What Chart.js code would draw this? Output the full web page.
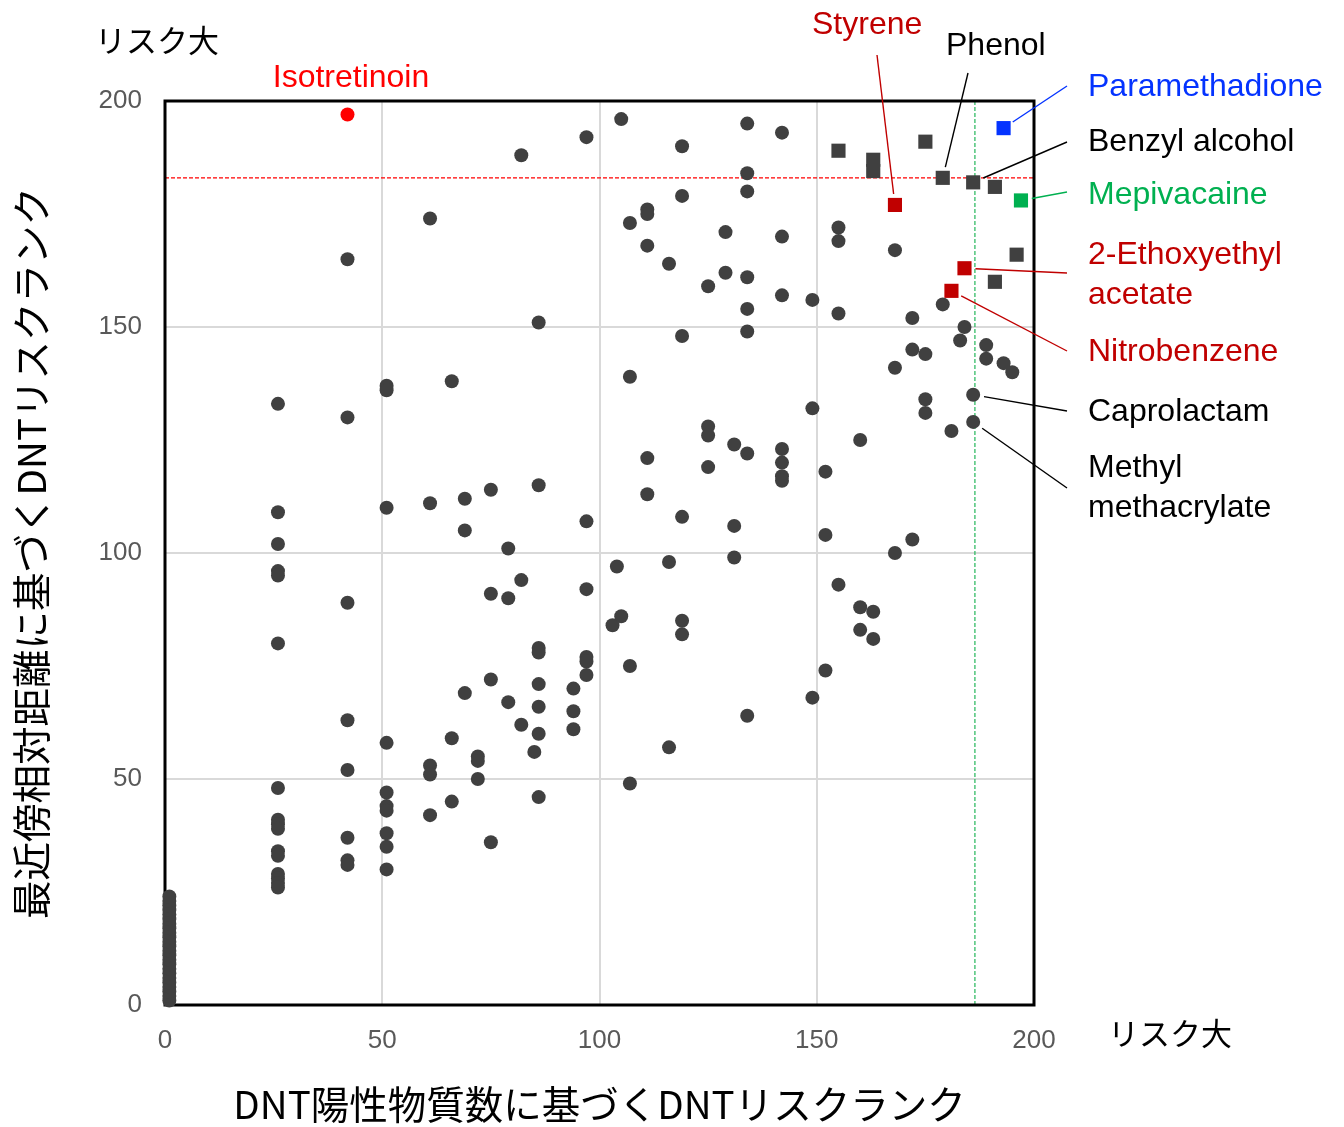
<!DOCTYPE html>
<html lang="ja">
<head>
    <meta charset="UTF-8">
    <title>DNT risk rank</title>
    <script src="https://cdn.jsdelivr.net/npm/chart.js"></script>
    <style>
        body { margin: 0; background: #fff; }
        #wrap { width: 1344px; height: 1127px; position: relative; }
    </style>
</head>
<body>
    <div id="wrap"><canvas id="rankChart"></canvas></div>

    <script>
        // x: rank from number of DNT-positive substances, y: rank from nearest-neighbour relative distance
        const circleRanks = [1, 26, 42, 51, 61, 66, 69, 72, 75, 79, 82, 85, 86, 94, 97, 103, 104, 105, 107, 111,
            116, 119, 125, 129, 131, 134, 142, 149, 152, 155, 160, 163, 168, 172, 175, 179, 181, 183, 184, 189, 193, 195];
        const circleDistances = [
            [1, 2, 3, 4, 5, 6, 7, 8, 9, 10, 11, 12, 13, 14, 15, 16, 17, 18, 19, 20, 21, 22, 23, 24],
            [133, 109, 102, 96, 95, 80, 48, 41, 40, 39, 34, 33, 29, 28, 27, 26],
            [165, 130, 89, 63, 52, 37, 32, 31],
            [137, 136, 110, 58, 47, 44, 43, 38, 35, 30],
            [174, 111, 53, 51, 42],
            [138, 59, 45],
            [112, 105, 69],
            [55, 54, 50],
            [114, 91, 72, 36],
            [101, 90, 67],
            [188, 94, 62],
            [56],
            [151, 115, 79, 78, 71, 66, 60, 46],
            [70, 65, 61],
            [192, 107, 92, 77, 76, 73],
            [84],
            [97],
            [196, 86],
            [173, 139, 75, 49],
            [176, 175, 168, 121, 113],
            [164, 98, 57],
            [190, 179, 148, 108, 85, 82],
            [159, 128, 126, 119],
            [171, 162],
            [124, 106, 99],
            [195, 184, 180, 161, 154, 149, 122, 64],
            [193, 170, 157, 123, 120, 117, 116],
            [156, 132, 68],
            [118, 104, 74],
            [172, 169, 153, 93],
            [125, 88, 83],
            [87, 81],
            [167, 141, 100],
            [152, 145, 103],
            [144, 134, 131],
            [155],
            [127],
            [147],
            [150],
            [146, 143],
            [142],
            [140]
        ];

        // square markers without a name
        const squareRanks = [155, 163, 163, 175, 191, 196, 191];
        const squareDistances = [189, 187, 184.5, 191, 181, 166, 160];

        // named compounds
        const compoundNames = ['Isotretinoin', 'Styrene', 'Phenol', 'Paramethadione', 'Benzyl alcohol',
            'Mepivacaine', '2-Ethoxyethyl acetate', 'Nitrobenzene', 'Caprolactam', 'Methyl methacrylate'];
        const compoundRanks = [42, 168, 179, 193, 186, 197, 184, 181, 186, 186];
        const compoundDistances = [197, 177, 183, 194, 182, 178, 163, 158, 135, 129];

        const distanceCutoff = 183;
        const rankCutoff = 186.4;
        const axisTicks = [0, 50, 100, 150, 200];

        const GRAY = '#404040';
        const DARKRED = '#c00000';
        const latin = '"Liberation Sans", Arial, sans-serif';
        const jp = '"Noto Sans CJK JP", sans-serif';

        const markStyle = {
            'Isotretinoin': { shape: 'circle', color: '#ff0000' },
            'Styrene': { shape: 'rect', color: DARKRED },
            'Phenol': { shape: 'rect', color: GRAY },
            'Paramethadione': { shape: 'rect', color: '#0433ff' },
            'Benzyl alcohol': { shape: 'rect', color: GRAY },
            'Mepivacaine': { shape: 'rect', color: '#00b050' },
            '2-Ethoxyethyl acetate': { shape: 'rect', color: DARKRED },
            'Nitrobenzene': { shape: 'rect', color: DARKRED },
            'Caprolactam': { shape: 'circle', color: GRAY },
            'Methyl methacrylate': { shape: 'circle', color: GRAY }
        };

        // label placement in canvas pixels; leader goes from (lx, ly) to the point
        const callouts = {
            'Isotretinoin': { text: ['Isotretinoin'], tx: 351, ty: 78, align: 'center', color: '#ff0000' },
            'Styrene': { text: ['Styrene'], tx: 812, ty: 25, color: DARKRED, lx: 877, ly: 55 },
            'Phenol': { text: ['Phenol'], tx: 946, ty: 46, color: '#000', lx: 968, ly: 73 },
            'Paramethadione': { text: ['Paramethadione'], tx: 1088, ty: 87, color: '#0433ff', lx: 1067, ly: 86 },
            'Benzyl alcohol': { text: ['Benzyl alcohol'], tx: 1088, ty: 142, color: '#000', lx: 1067, ly: 142 },
            'Mepivacaine': { text: ['Mepivacaine'], tx: 1088, ty: 195, color: '#00b050', lx: 1067, ly: 192 },
            '2-Ethoxyethyl acetate': { text: ['2-Ethoxyethyl', 'acetate'], tx: 1088, ty: 255, color: DARKRED, lx: 1067, ly: 273 },
            'Nitrobenzene': { text: ['Nitrobenzene'], tx: 1088, ty: 352, color: DARKRED, lx: 1067, ly: 351 },
            'Caprolactam': { text: ['Caprolactam'], tx: 1088, ty: 412, color: '#000', lx: 1067, ly: 411 },
            'Methyl methacrylate': { text: ['Methyl', 'methacrylate'], tx: 1088, ty: 468, color: '#000', lx: 1067, ly: 488 }
        };

        const circlePoints = [];
        circleRanks.forEach((r, i) => {
            circleDistances[i].forEach(d => circlePoints.push({ x: r, y: d }));
        });
        const squarePoints = squareRanks.map((r, i) => ({ x: r, y: squareDistances[i] }));
        const compoundPoints = compoundRanks.map((r, i) => ({ x: r, y: compoundDistances[i] }));

        const overlay = {
            id: 'overlay',
            beforeDatasetsDraw(chart) {
                const { ctx, chartArea: a, scales: { x, y } } = chart;
                ctx.save();
                ctx.lineWidth = 1.3;
                ctx.setLineDash([4, 2]);
                ctx.strokeStyle = '#ff0000';
                const yc = y.getPixelForValue(distanceCutoff);
                ctx.beginPath();
                ctx.moveTo(a.left, yc);
                ctx.lineTo(a.right, yc);
                ctx.stroke();
                ctx.strokeStyle = '#33bb66';
                const xc = x.getPixelForValue(rankCutoff);
                ctx.beginPath();
                ctx.moveTo(xc, a.top);
                ctx.lineTo(xc, a.bottom);
                ctx.stroke();
                ctx.setLineDash([]);
                ctx.lineWidth = 3;
                ctx.strokeStyle = '#000';
                ctx.strokeRect(a.left, a.top, a.right - a.left, a.bottom - a.top);
                ctx.restore();
            },
            afterDatasetsDraw(chart) {
                const { ctx, scales: { x, y } } = chart;
                ctx.save();
                ctx.textBaseline = 'middle';
                compoundNames.forEach((name, i) => {
                    const c = callouts[name];
                    if (c.lx !== undefined) {
                        const px = x.getPixelForValue(compoundRanks[i]);
                        const py = y.getPixelForValue(compoundDistances[i]);
                        const dx = px - c.lx, dy = py - c.ly;
                        const len = Math.hypot(dx, dy);
                        const stop = (len - 11) / len;
                        ctx.strokeStyle = c.color;
                        ctx.lineWidth = 1.4;
                        ctx.beginPath();
                        ctx.moveTo(c.lx, c.ly);
                        ctx.lineTo(c.lx + dx * stop, c.ly + dy * stop);
                        ctx.stroke();
                    }
                    ctx.fillStyle = c.color;
                    ctx.font = '32px ' + latin;
                    ctx.textAlign = c.align || 'left';
                    c.text.forEach((t, k) => ctx.fillText(t, c.tx, c.ty + k * 40));
                });
                ctx.fillStyle = '#000';
                ctx.textAlign = 'left';
                ctx.font = '31px ' + jp;
                ctx.fillText('リスク大', 95, 40);
                ctx.fillText('リスク大', 1108, 1033);
                ctx.restore();
            }
        };

        const tickFont = { size: 26, family: latin };
        const titleFont = { size: 38.5, family: jp };

        new Chart(document.getElementById('rankChart'), {
            type: 'scatter',
            data: {
                datasets: [
                    {
                        data: circlePoints,
                        pointStyle: 'circle',
                        pointRadius: 7,
                        backgroundColor: GRAY,
                        borderWidth: 0,
                        clip: false
                    },
                    {
                        data: squarePoints,
                        pointStyle: 'rect',
                        pointRadius: 10,
                        backgroundColor: GRAY,
                        borderWidth: 0,
                        clip: false
                    },
                    {
                        data: compoundPoints,
                        pointStyle: compoundNames.map(n => markStyle[n].shape),
                        pointRadius: compoundNames.map(n => markStyle[n].shape === 'rect' ? 10 : 7),
                        backgroundColor: compoundNames.map(n => markStyle[n].color),
                        borderWidth: 0,
                        clip: false
                    }
                ]
            },
            options: {
                responsive: true,
                maintainAspectRatio: false,
                animation: false,
                layout: { padding: { left: 0, top: 101, right: 310, bottom: 0 } },
                plugins: { legend: { display: false }, tooltip: { enabled: false } },
                scales: {
                    x: {
                        type: 'linear',
                        min: 0,
                        max: 200,
                        afterBuildTicks: s => { s.ticks = axisTicks.map(v => ({ value: v })); },
                        ticks: { padding: 20, color: '#595959', font: tickFont },
                        grid: { color: '#d9d9d9', lineWidth: 2, drawTicks: false },
                        border: { display: false },
                        title: {
                            display: true,
                            text: 'DNT陽性物質数に基づくDNTリスクランク',
                            color: '#000',
                            font: titleFont,
                            padding: { top: 0, bottom: 0 }
                        },
                        afterFit: s => { s.height = 122; }
                    },
                    y: {
                        type: 'linear',
                        min: 0,
                        max: 200,
                        afterBuildTicks: s => { s.ticks = axisTicks.map(v => ({ value: v })); },
                        ticks: { padding: 23, color: '#595959', font: tickFont },
                        grid: { color: '#d9d9d9', lineWidth: 2, drawTicks: false },
                        border: { display: false },
                        title: {
                            display: true,
                            text: '最近傍相対距離に基づくDNTリスクランク',
                            color: '#000',
                            font: titleFont,
                            padding: { top: 8, bottom: 0 }
                        },
                        afterFit: s => { s.width = 165; }
                    }
                }
            },
            plugins: [overlay]
        });
    </script>
</body>
</html>
